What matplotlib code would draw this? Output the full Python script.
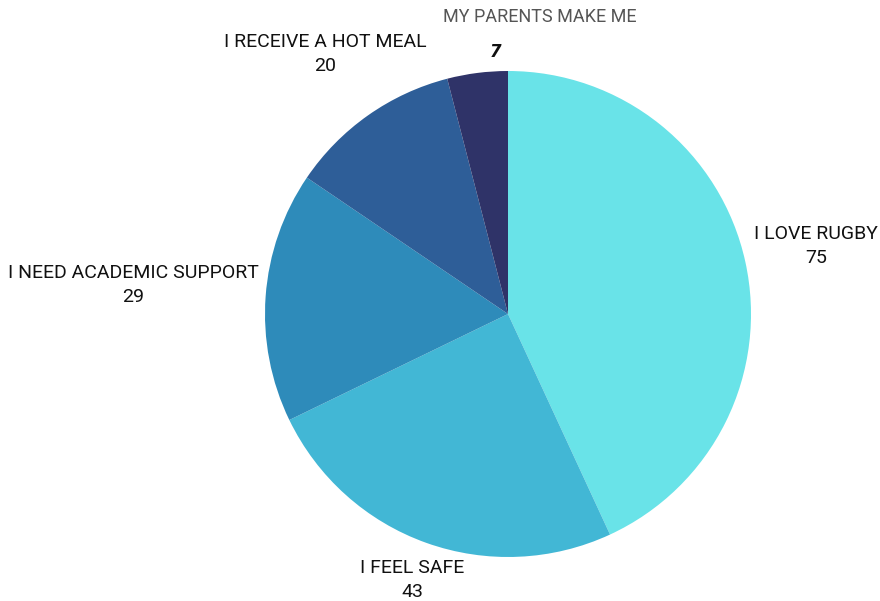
import matplotlib
matplotlib.use("Agg")
import matplotlib.pyplot as plt

categories = ["I LOVE RUGBY", "I FEEL SAFE", "I NEED ACADEMIC SUPPORT", "I RECEIVE A HOT MEAL", "MY PARENTS MAKE ME"]
values = [75, 43, 29, 20, 7]
colors = ["#69E3E8", "#42B7D5", "#2E8BBA", "#2E5E98", "#2F3368"]

W, H = 880, 601
fig = plt.figure(figsize=(W / 100, H / 100), dpi=100)
ax = fig.add_axes([0, 0, 1, 1])

cx, cy, r = 508, H - 314, 243
ax.pie(values, colors=colors, startangle=90, counterclock=False,
       center=(cx, cy), radius=r, frame=True,
       wedgeprops=dict(linewidth=0))
ax.set_xlim(0, W)
ax.set_ylim(0, H)
ax.set_aspect("equal")
ax.axis("off")

font = ["Roboto", "DejaVu Sans"]
fs = 14
label_pos = [(816, 234), (412, 568), (133, 273), (325, 42)]
for (lx, ly), cat, v in zip(label_pos, categories[:4], values[:4]):
    ax.text(lx, H - ly, cat, ha="center", va="center", fontsize=fs, family=font, color="#111111")
    ax.text(lx, H - ly - 24, str(v), ha="center", va="center", fontsize=fs, family=font, color="#111111")

ax.text(540, H - 17, categories[4], ha="center", va="center", fontsize=13, family=font, color="#555555")
ax.text(496, H - 52, str(values[4]), ha="center", va="center", fontsize=12, family="DejaVu Sans",
        color="#111111", fontweight="bold", fontstyle="oblique")

fig.savefig("out.png", dpi=100)
